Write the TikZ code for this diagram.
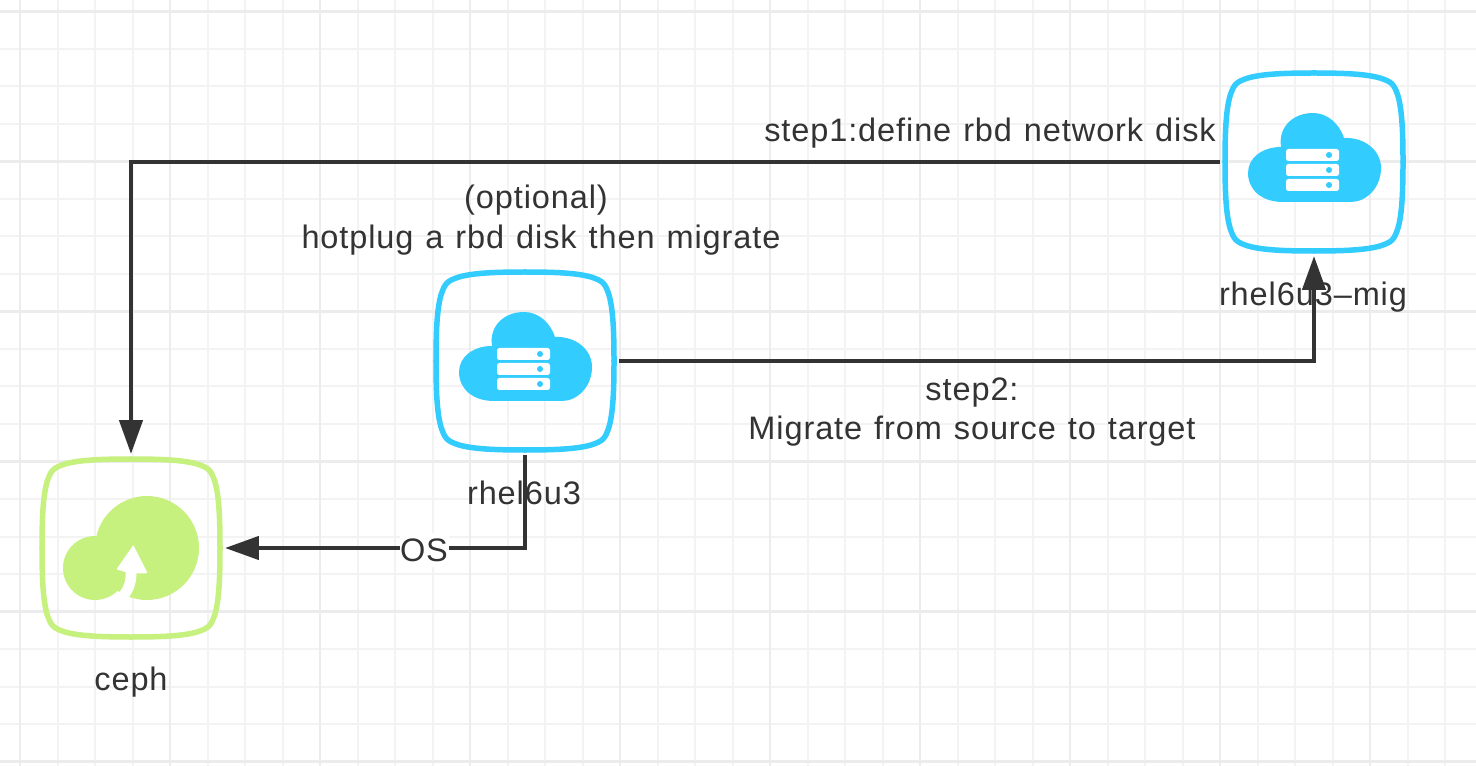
\documentclass[tikz,border=0pt]{standalone}
\usepackage{fontspec}
\setmainfont{Liberation Sans}[LetterSpace=2.8,WordSpace=1.2]
\usepackage{xcolor}
\usetikzlibrary{arrows.meta,positioning}
\definecolor{ink}{HTML}{333333}
\definecolor{gridmin}{HTML}{F3F3F3}
\definecolor{gridmaj}{HTML}{ECECEC}
\definecolor{srvblue}{HTML}{33CCFF}
\definecolor{cephgreen}{HTML}{C7F17F}
\tikzset{
  hostbox/.style={minimum size=3.76cm,inner sep=0pt,outer sep=0pt},
  lbl/.style={font=\fontsize{18.5}{22.5}\selectfont,text=ink,inner sep=0pt,align=center},
  arrowdark/.style={-{Triangle[length=0.68cm,width=0.46cm]},line width=0.09cm,ink},
  squircle/.pic={
    \foreach \a in {0,90,180,270}{
      \draw[rotate=\a,#1,line width=0.11cm,line cap=round]
        (0,-89) .. controls (30,-89) and (52,-88) .. (66,-84)
        .. controls (78,-80) and (80,-78) .. (84,-66)
        .. controls (88,-52) and (89,-30) .. (89,0);
    }
  },
  servercloud/.pic={
    \fill[srvblue] (-31,40) .. controls (-52,40) and (-66,28) .. (-66,11)
      .. controls (-66,-4) and (-52,-15) .. (-33,-15)
      .. controls (-36,-36) and (-20,-49) .. (-1,-49)
      .. controls (13,-49) and (25,-39) .. (30,-24)
      .. controls (50,-25) and (67,-12) .. (67,6)
      .. controls (67,26) and (52,40) .. (37,40) -- cycle;
    \foreach \y in {-13,2,17}{
      \fill[white,rounded corners=0.05cm] (-28,\y) rectangle (25,\y+12);
      \fill[srvblue] (15,\y+6) circle (3);
    }
  },
  cephcloud/.pic={
    \fill[cephgreen] (16,0) circle (52);
    \fill[cephgreen] (-36,20) circle (32);
    \fill[white,draw=white,line join=round,line width=0.02cm] (2.3,-2) -- (15.7,24.7) -- (5,25)
      .. controls (5,35) and (2,44) .. (-4.3,51)
      -- (-14,47) .. controls (-8,42) and (-4,34) .. (-5,23.7) -- (-13.7,21) -- cycle;
  },
}
\begin{document}
\begin{tikzpicture}[x=0.02cm,y=-0.02cm]
  \useasboundingbox (0,0) rectangle (1476,766);
  \fill[white] (0,0) rectangle (1476,766);

  % Grid paper
  \foreach \x in {57.5,95,132.5,207.5,245,282.5,357.5,395,432.5,507.5,545,582.5,
                  657.5,695,732.5,807.5,845,882.5,957.5,995,1032.5,1107.5,1145,
                  1182.5,1257.5,1295,1332.5,1407.5,1445}{
    \draw[gridmin,line width=0.04cm] (\x,0)--(\x,766);
  }
  \foreach \y in {49,86.5,124,199,236.5,274,349,386.5,424,499,536.5,574,649,686.5,724}{
    \draw[gridmin,line width=0.04cm] (0,\y)--(1476,\y);
  }
  \foreach \x in {20,170,320,470,620,770,920,1070,1220,1370}{
    \draw[gridmaj,line width=0.05cm] (\x,0)--(\x,766);
  }
  \foreach \y in {11.5,161.5,311.5,461.5,611.5,761.5}{
    \draw[gridmaj,line width=0.05cm] (0,\y)--(1476,\y);
  }

  % Hosts
  \node[hostbox] (ceph) at (131,548) {};
  \node[hostbox] (rhel) at (525,361) {};
  \node[hostbox] (mig) at (1314,162) {};
  \pic at (ceph.center) {squircle=cephgreen};
  \pic at (rhel.center) {squircle=srvblue};
  \pic at (mig.center) {squircle=srvblue};
  \pic at (ceph.center) {cephcloud};
  \pic at (rhel.center) {servercloud};
  \pic at (mig.center) {servercloud};

  % Connectors
  \draw[arrowdark] (mig.west) -| (ceph.north);
  \draw[arrowdark] (rhel.east) -| (mig.south);
  \draw[arrowdark] (rhel.south) |- (ceph.east);

  % Labels
  \node[lbl] (cephlbl) at (131,682) {ceph};
  \node[lbl] (rhellbl) at (524,493) {rhel6u3};
  \node[lbl] (miglbl) at (1313,297) {rhel6u3--mig};
  \node[lbl] (steponelbl) at (990,133) {step1:define rbd network disk};
  \node[lbl] (hotpluglbl) at (541,220) {(optional)\hspace*{0.2cm}\\hotplug a rbd disk then migrate};
  \node[lbl] (steptwolbl) at (972,412) {step2:\\Migrate from source to target};
  \node[lbl,fill=white,minimum width=0.98cm,minimum height=0.7cm] (oslbl) at (424,550) {OS};
\end{tikzpicture}
\end{document}
